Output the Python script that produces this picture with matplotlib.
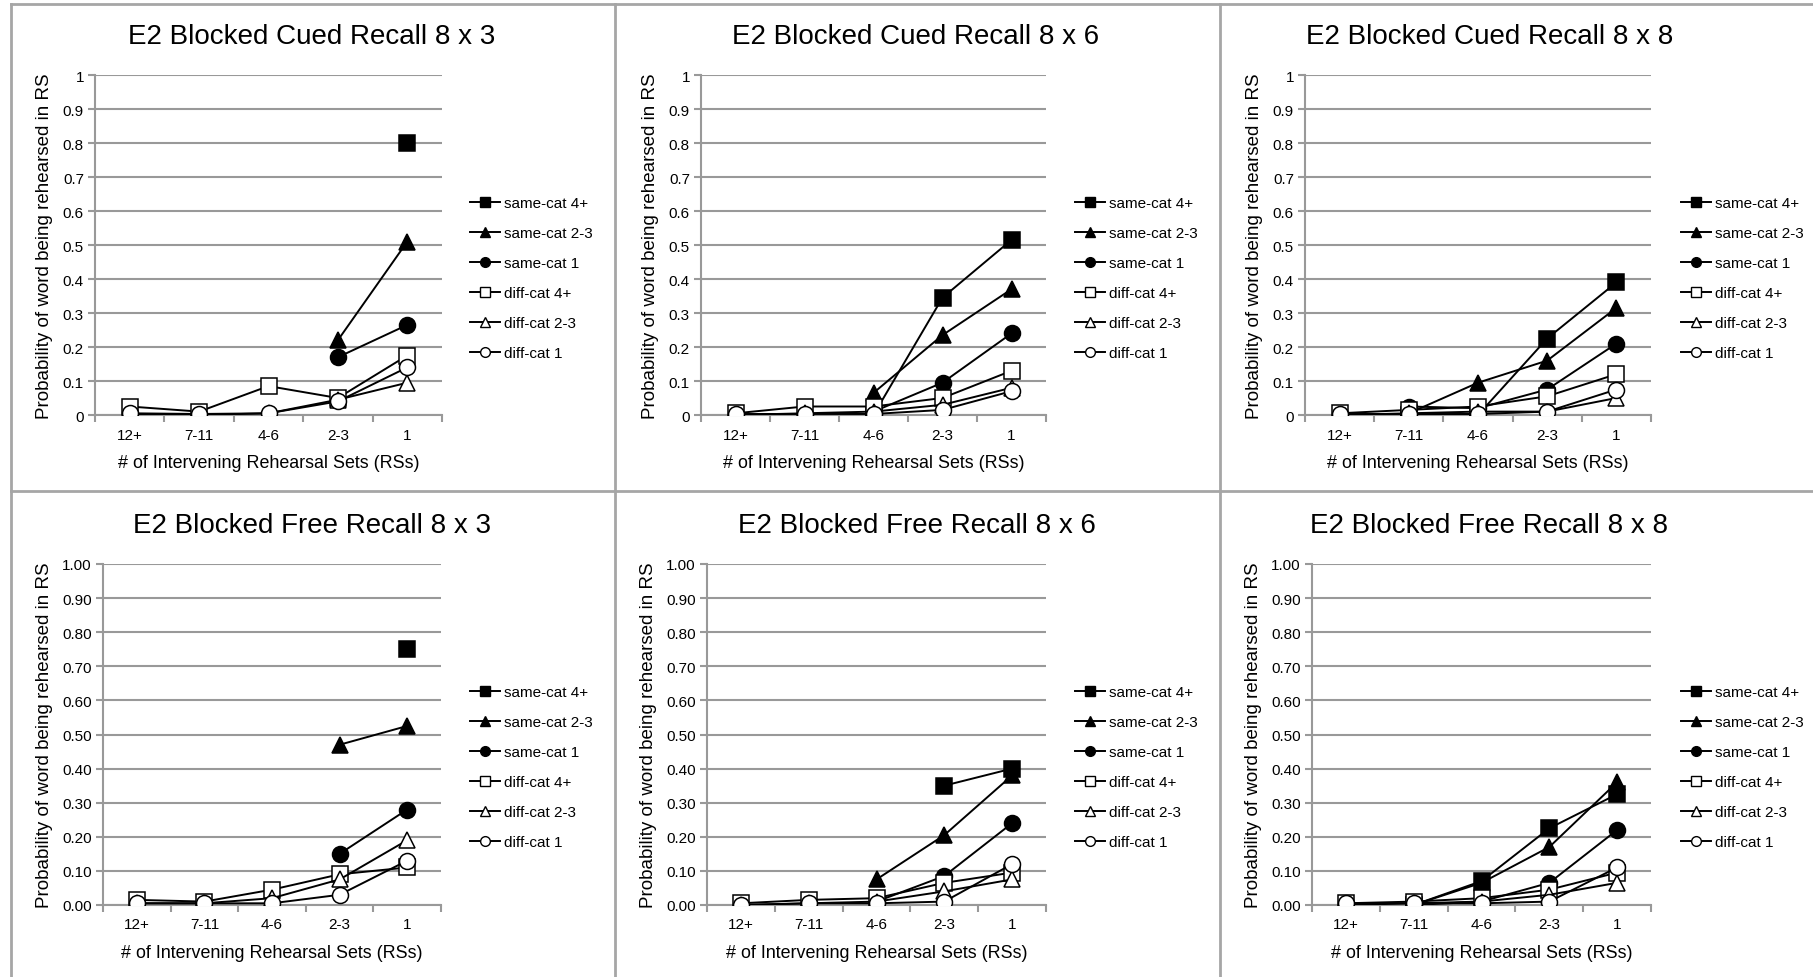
import numpy as np
import matplotlib
matplotlib.use("Agg")
import matplotlib.pyplot as plt
from matplotlib.lines import Line2D

plt.rcParams['font.family'] = ['Liberation Sans', 'DejaVu Sans']

nan = np.nan

categories = ['12+', '7-11', '4-6', '2-3', '1']
series_names = ['same-cat 4+', 'same-cat 2-3', 'same-cat 1',
                'diff-cat 4+', 'diff-cat 2-3', 'diff-cat 1']

titles = ['E2 Blocked Cued Recall 8 x 3', 'E2 Blocked Cued Recall 8 x 6',
          'E2 Blocked Cued Recall 8 x 8', 'E2 Blocked Free Recall 8 x 3',
          'E2 Blocked Free Recall 8 x 6', 'E2 Blocked Free Recall 8 x 8']

# each panel: rows in the order of series_names
cued_8x3 = [
    [nan, nan, nan, nan, 0.80],
    [nan, nan, nan, 0.22, 0.51],
    [nan, nan, nan, 0.17, 0.265],
    [0.025, 0.01, 0.085, 0.05, 0.175],
    [0.0, 0.0, 0.005, 0.045, 0.095],
    [0.005, 0.003, 0.005, 0.04, 0.14],
]
cued_8x6 = [
    [nan, nan, 0.0, 0.345, 0.515],
    [nan, nan, 0.065, 0.235, 0.37],
    [nan, nan, 0.01, 0.095, 0.24],
    [0.005, 0.025, 0.025, 0.05, 0.13],
    [0.0, 0.005, 0.01, 0.03, 0.08],
    [0.003, 0.003, 0.003, 0.015, 0.07],
]
cued_8x8 = [
    [nan, 0.0, 0.0, 0.225, 0.39],
    [nan, 0.005, 0.095, 0.16, 0.315],
    [nan, 0.025, 0.02, 0.075, 0.21],
    [0.005, 0.015, 0.025, 0.055, 0.12],
    [0.0, 0.005, 0.01, 0.01, 0.05],
    [0.003, 0.003, 0.003, 0.01, 0.075],
]
free_8x3 = [
    [nan, nan, nan, nan, 0.75],
    [nan, nan, nan, 0.47, 0.525],
    [nan, nan, nan, 0.15, 0.28],
    [0.015, 0.01, 0.045, 0.09, 0.11],
    [0.005, 0.005, 0.02, 0.075, 0.19],
    [0.005, 0.005, 0.005, 0.03, 0.13],
]
free_8x6 = [
    [nan, nan, nan, 0.35, 0.40],
    [nan, nan, 0.075, 0.205, 0.38],
    [nan, nan, 0.01, 0.085, 0.24],
    [0.005, 0.015, 0.02, 0.065, 0.095],
    [0.0, 0.005, 0.01, 0.04, 0.075],
    [0.0, 0.005, 0.005, 0.01, 0.12],
]
free_8x8 = [
    [nan, 0.0, 0.07, 0.225, 0.325],
    [nan, 0.0, 0.065, 0.17, 0.36],
    [nan, 0.0, 0.01, 0.065, 0.22],
    [0.005, 0.01, 0.02, 0.045, 0.095],
    [0.0, 0.005, 0.01, 0.03, 0.065],
    [0.005, 0.005, 0.005, 0.01, 0.11],
]
panels = [cued_8x3, cued_8x6, cued_8x8, free_8x3, free_8x6, free_8x8]

markers = ['s', '^', 'o', 's', '^', 'o']
fills = ['black', 'black', 'black', 'white', 'white', 'white']

W, H = 1813, 978
fig = plt.figure(figsize=(W / 100, H / 100), dpi=100)

# pixel boxes for the plot areas (x0, y0, x1, y1)
boxes = [(95, 76, 442, 416), (701, 76, 1046, 416), (1305, 76, 1651, 416),
         (103, 565, 441, 906), (707, 565, 1046, 906), (1312, 565, 1651, 906)]
title_pos = [(312, 37), (916, 37), (1490, 37), (312, 526), (917, 526), (1489, 526)]
legend_x = [470, 1075, 1681, 470, 1075, 1681]

grid_col = '#999999'
x = np.arange(len(categories))

for i, data in enumerate(panels):
    x0, y0, x1, y1 = boxes[i]
    ax = fig.add_axes([x0 / W, 1 - y1 / H, (x1 - x0) / W, (y1 - y0) / H])
    for k, row in enumerate(data):
        ax.plot(x, row, color='black', lw=1.4, marker=markers[k],
                markerfacecolor=fills[k], markeredgecolor='black',
                markeredgewidth=1.1, markersize=11.5,
                zorder=3 + k)
    ax.set_xlim(-0.5, 4.5)
    ax.set_ylim(0, 1)
    ax.set_yticks(np.arange(0, 1.01, 0.1))
    if i < 3:
        ax.set_yticklabels(['0', '0.1', '0.2', '0.3', '0.4', '0.5', '0.6', '0.7', '0.8', '0.9', '1'])
    else:
        ax.set_yticklabels(['%.2f' % v for v in np.arange(0, 1.01, 0.1)])
    ax.yaxis.grid(True, color=grid_col, lw=1.5)
    ax.set_axisbelow(True)
    ax.set_xticks(x)
    ax.set_xticklabels(categories)
    ax.set_xticks(np.arange(-0.5, 4.6, 1), minor=True)
    ax.tick_params(axis='x', which='major', length=0, pad=9, labelsize=11)
    ax.tick_params(axis='x', which='minor', length=5, color=grid_col, width=1.5)
    ax.tick_params(axis='y', length=5, color=grid_col, width=1.5, pad=3, labelsize=11)
    for s in ['top', 'right']:
        ax.spines[s].set_visible(False)
    for s in ['left', 'bottom']:
        ax.spines[s].set_color(grid_col)
        ax.spines[s].set_linewidth(1.5)
    ax.set_xlabel('# of Intervening Rehearsal Sets (RSs)', fontsize=12.9, labelpad=9)
    ax.set_ylabel('Probability of word being rehearsed in RS', fontsize=13.5, labelpad=7)

    tx, ty = title_pos[i]
    fig.text(tx / W, 1 - ty / H, titles[i], fontsize=20, ha='center', va='center')

    handles = [Line2D([0], [0], color='black', lw=1.4, marker=markers[k],
                      markerfacecolor=fills[k], markeredgecolor='black',
                      markersize=7) for k in range(6)]
    ly = 197 if i < 3 else 686
    fig.legend(handles, series_names, loc='upper left',
               bbox_to_anchor=(legend_x[i] / W, 1 - ly / H),
               bbox_transform=fig.transFigure, frameon=False, fontsize=11,
               handlelength=1.95, handletextpad=0.25, labelspacing=1.05,
               borderpad=0, borderaxespad=0)

# panel borders
border = '#a6a6a6'
for xb in [11, 615, 1220]:
    fig.add_artist(Line2D([xb / W, xb / W], [0, 1 - 5 / H], color=border, lw=2))
for yb in [5, 492]:
    fig.add_artist(Line2D([11 / W, 1], [1 - yb / H, 1 - yb / H], color=border, lw=2))

fig.savefig('out.png', dpi=100, facecolor='white')
